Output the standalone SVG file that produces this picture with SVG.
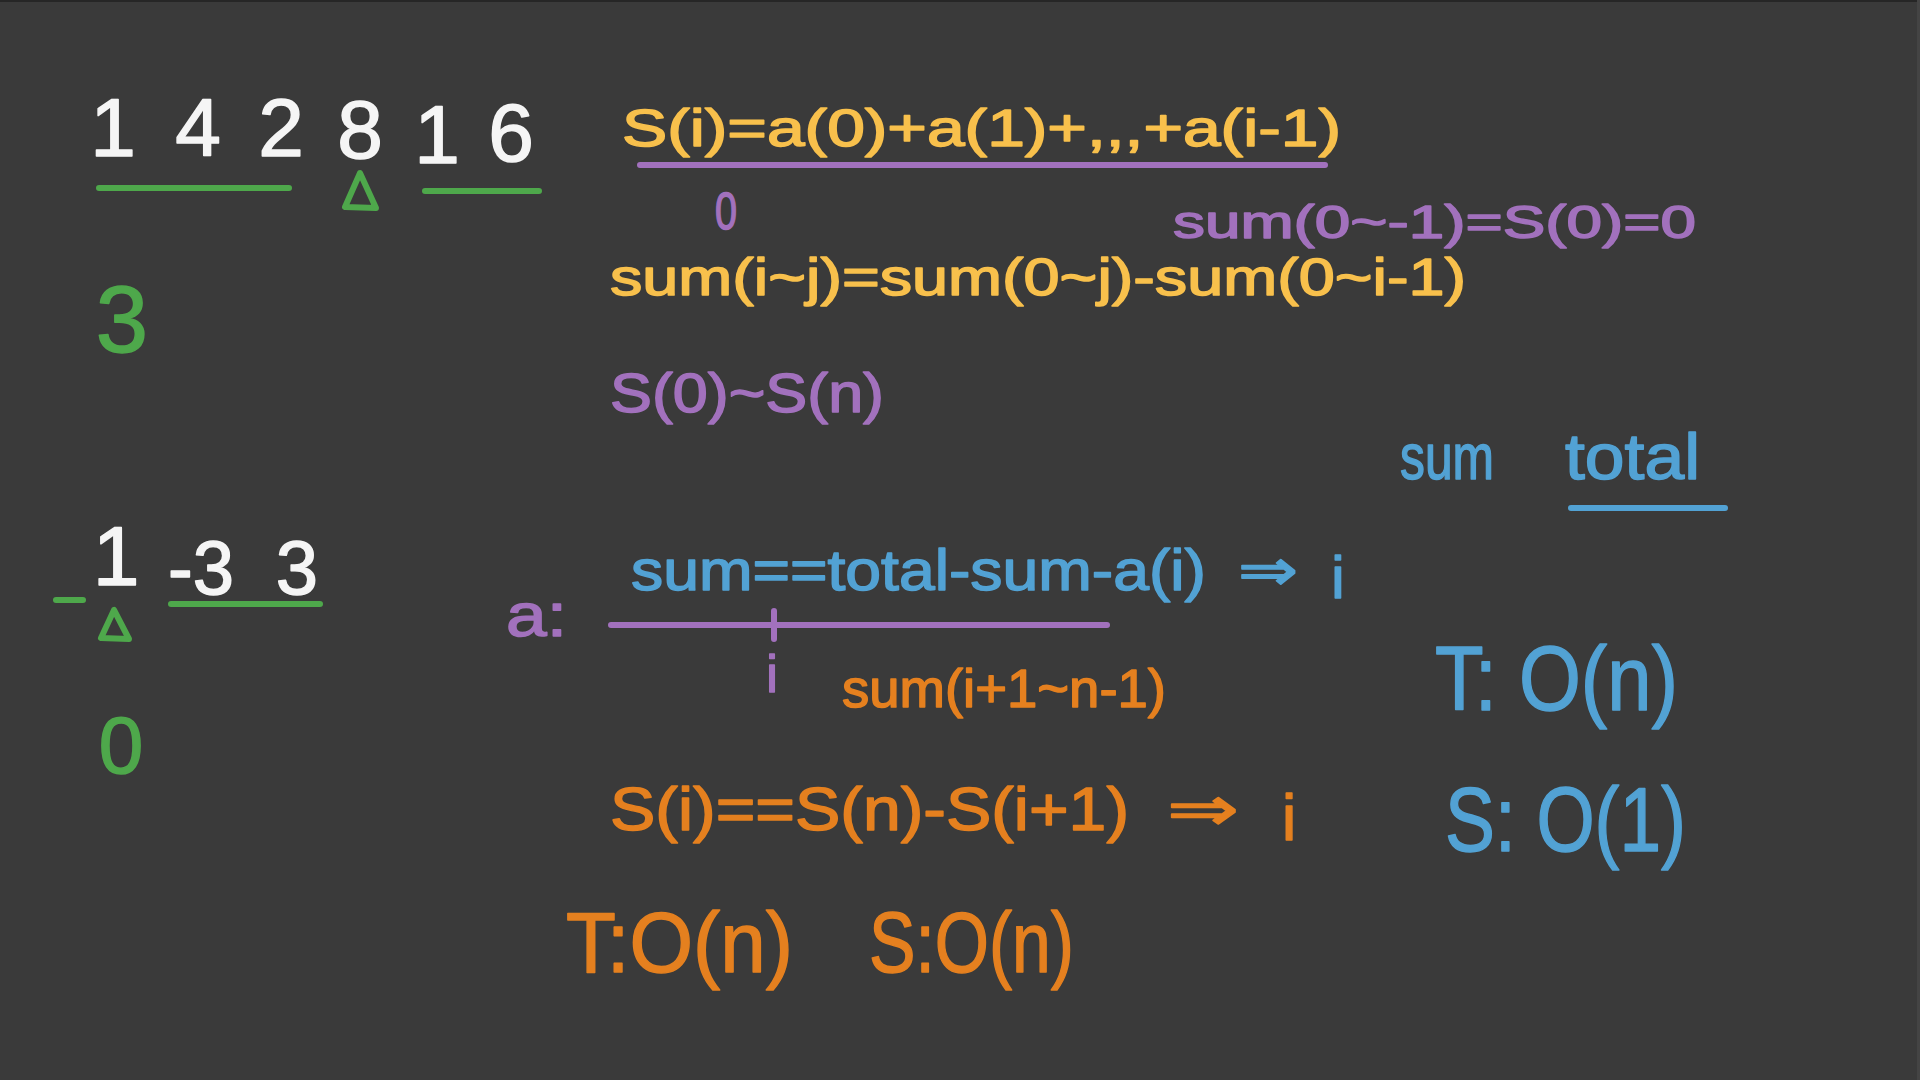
<svg xmlns="http://www.w3.org/2000/svg" width="1920" height="1080" viewBox="0 0 1920 1080">
<style>
text{font-family:"Liberation Sans","DejaVu Sans",sans-serif;stroke-width:1.5;stroke-linejoin:round}
.w{fill:#f5f5f5;stroke:#f5f5f5}
.g{fill:#4ea84b;stroke:#4ea84b}
.y{fill:#f8c04c;stroke:#f8c04c}
.p{fill:#a271bd;stroke:#a271bd}
.b{fill:#52a2d4;stroke:#52a2d4}
.o{fill:#e5801f;stroke:#e5801f}
.ln{fill:none;stroke-width:6;stroke-linecap:round;stroke-linejoin:round}
.mid{text-anchor:middle}
</style>
<rect width="1920" height="1080" fill="#3a3a3a"/>
<rect width="1920" height="2" fill="#262626"/>
<rect x="1917" y="0" width="3" height="1080" fill="#444"/>

<g id="array1">
<text class="w mid" x="113" y="156" font-size="82">1</text>
<text class="w mid" x="198" y="156" font-size="82">4</text>
<text class="w mid" x="281" y="156" font-size="82">2</text>
<text class="w mid" x="360" y="158" font-size="82">8</text>
<text class="w mid" x="437" y="163" font-size="82">1</text>
<text class="w mid" x="511" y="161" font-size="82">6</text>
<line class="ln" x1="99" y1="188" x2="289" y2="188" stroke="#4ea84b"/>
<polygon class="ln" points="360,173 345,207 376,208" stroke="#4ea84b"/>
<line class="ln" x1="425" y1="191" x2="539" y2="191" stroke="#4ea84b"/>
<text class="g mid" x="122" y="352" font-size="94">3</text>
</g>

<g id="array2">
<text class="w mid" x="116" y="585" font-size="84">1</text>
<text class="w" x="168" y="594" font-size="76" textLength="66" lengthAdjust="spacingAndGlyphs">-3</text>
<text class="w mid" x="297" y="594" font-size="76">3</text>
<line class="ln" x1="56" y1="600" x2="83" y2="600" stroke="#4ea84b"/>
<polygon class="ln" points="114,610 101,638 129,639" stroke="#4ea84b"/>
<line class="ln" x1="171" y1="604" x2="320" y2="604" stroke="#4ea84b"/>
<text class="g mid" x="121" y="773" font-size="80">0</text>
</g>

<g id="prefix-def">
<text class="y" x="622" y="146" font-size="52" textLength="719" lengthAdjust="spacingAndGlyphs">S(i)=a(0)+a(1)+,,,+a(i-1)</text>
<line class="ln" x1="640" y1="165" x2="1325" y2="165" stroke="#a271bd"/>
<text class="p mid" x="726" y="229" font-size="52" textLength="22" lengthAdjust="spacingAndGlyphs">0</text>
<text class="p" x="1173" y="238" font-size="46" textLength="523" lengthAdjust="spacingAndGlyphs">sum(0~-1)=S(0)=0</text>
<text class="y" x="610" y="295" font-size="52" textLength="856" lengthAdjust="spacingAndGlyphs">sum(i~j)=sum(0~j)-sum(0~i-1)</text>
<text class="p" x="610" y="412" font-size="56" textLength="274" lengthAdjust="spacingAndGlyphs">S(0)~S(n)</text>
</g>

<g id="vars">
<text class="b" x="1400" y="479" font-size="64" textLength="94" lengthAdjust="spacingAndGlyphs">sum</text>
<text class="b" x="1565" y="479" font-size="64" textLength="135" lengthAdjust="spacingAndGlyphs">total</text>
<line class="ln" x1="1571" y1="508" x2="1725" y2="508" stroke="#52a2d4"/>
</g>

<g id="scan">
<text class="p" x="506" y="636" font-size="62" textLength="61" lengthAdjust="spacingAndGlyphs">a:</text>
<text class="b" x="631" y="590" font-size="58" textLength="575" lengthAdjust="spacingAndGlyphs">sum==total-sum-a(i)</text>
<text class="b" x="1238" y="590" font-size="58" textLength="60" lengthAdjust="spacingAndGlyphs">⇒</text>
<text class="b mid" x="1338" y="598" font-size="60">i</text>
<line class="ln" x1="611" y1="625" x2="1107" y2="625" stroke="#a271bd"/>
<line class="ln" x1="774" y1="611" x2="774" y2="639" stroke="#a271bd" stroke-width="4"/>
<text class="p mid" x="772" y="692" font-size="52">i</text>
<text class="o" x="842" y="707" font-size="54" textLength="324" lengthAdjust="spacingAndGlyphs">sum(i+1~n-1)</text>
</g>

<g id="prefix-check">
<text class="o" x="610" y="830" font-size="62" textLength="519" lengthAdjust="spacingAndGlyphs">S(i)==S(n)-S(i+1)</text>
<text class="o" x="1167" y="830" font-size="62" textLength="72" lengthAdjust="spacingAndGlyphs">⇒</text>
<text class="o mid" x="1289" y="840" font-size="64">i</text>
<text class="o" x="566" y="972" font-size="86" textLength="227" lengthAdjust="spacingAndGlyphs">T:O(n)</text>
<text class="o" x="869" y="972" font-size="86" textLength="205" lengthAdjust="spacingAndGlyphs">S:O(n)</text>
</g>

<g id="complexity">
<text class="b" x="1435" y="710" font-size="90" textLength="243" lengthAdjust="spacingAndGlyphs">T: O(n)</text>
<text class="b" x="1445" y="851" font-size="90" textLength="241" lengthAdjust="spacingAndGlyphs">S: O(1)</text>
</g>
</svg>
